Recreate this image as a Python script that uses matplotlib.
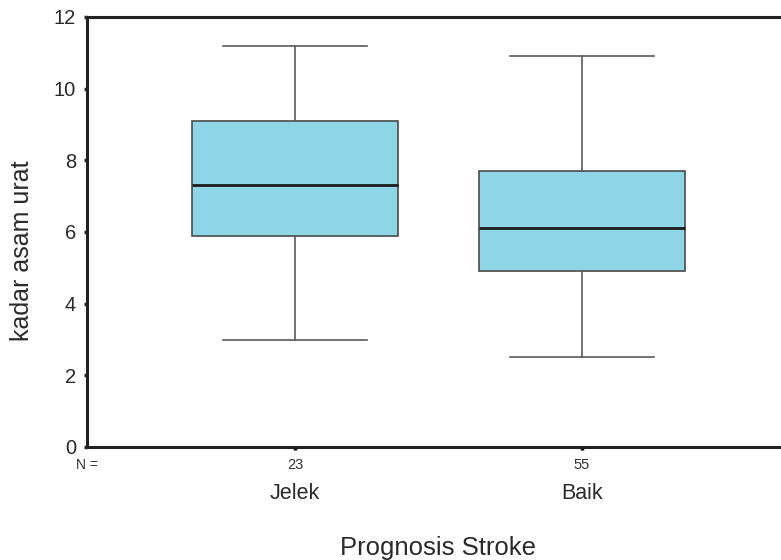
import matplotlib
matplotlib.use("Agg")
import matplotlib.pyplot as plt

# data
groups = ["Jelek", "Baik"]
counts = [23, 55]
whisker_low = [3.0, 2.5]
q1 = [5.9, 4.92]
median = [7.3, 6.1]
q3 = [9.1, 7.7]
whisker_high = [11.18, 10.9]

plt.rcParams['font.family'] = ['Liberation Sans', 'DejaVu Sans']

fig = plt.figure(figsize=(7.81, 5.6), dpi=100)
ax = fig.add_axes([87 / 781, 113 / 560, 703 / 781, 430 / 560])

stats = []
for i in range(len(groups)):
    stats.append({
        'whislo': whisker_low[i], 'q1': q1[i], 'med': median[i],
        'q3': q3[i], 'whishi': whisker_high[i], 'fliers': [],
    })

positions = [1, 2]
ax.bxp(stats, positions=positions, widths=0.72, patch_artist=True,
       showfliers=False,
       boxprops=dict(facecolor='#8fd5e8', edgecolor='#4a4a4a', linewidth=1.2),
       medianprops=dict(color='#1a1a1a', linewidth=2.0),
       whiskerprops=dict(color='#5a5a5a', linewidth=1.2),
       capprops=dict(color='#5a5a5a', linewidth=1.2),
       capwidths=0.5)

ax.set_xlim(1 - 0.725, 2 + 0.725)
ax.set_ylim(0, 12)
ax.set_yticks([0, 2, 4, 6, 8, 10, 12])
ax.tick_params(axis='y', labelsize=14.5, length=2, width=2.5, direction='out',
               pad=6, colors='#2a2a2a')
ax.tick_params(axis='x', length=2.5, width=2.5, direction='out', labelsize=0)
ax.set_xticks(positions)
ax.set_xticklabels(['', ''])

for side in ['left', 'bottom', 'top']:
    ax.spines[side].set_linewidth(2.2)
    ax.spines[side].set_color('#222222')
ax.spines['right'].set_visible(False)

# N = counts and group names below the axis
ax.text(1 - 0.725, -0.5, "N =", ha='center', va='center', fontsize=10,
        color='#333333')
for p, n, g in zip(positions, counts, groups):
    ax.text(p, -0.5, str(n), ha='center', va='center', fontsize=10.5,
            color='#333333')
    ax.text(p, -1.31, g, ha='center', va='center', fontsize=15.5,
            color='#2a2a2a')

ax.text(1.5, -2.82, "Prognosis Stroke", ha='center', va='center',
        fontsize=18.5, color='#2a2a2a')

fig.text(22 / 781, 1 - 251 / 560, "kadar asam urat", rotation=90,
         ha='center', va='center', fontsize=18, color='#2a2a2a')

fig.savefig("out.png", dpi=100)
